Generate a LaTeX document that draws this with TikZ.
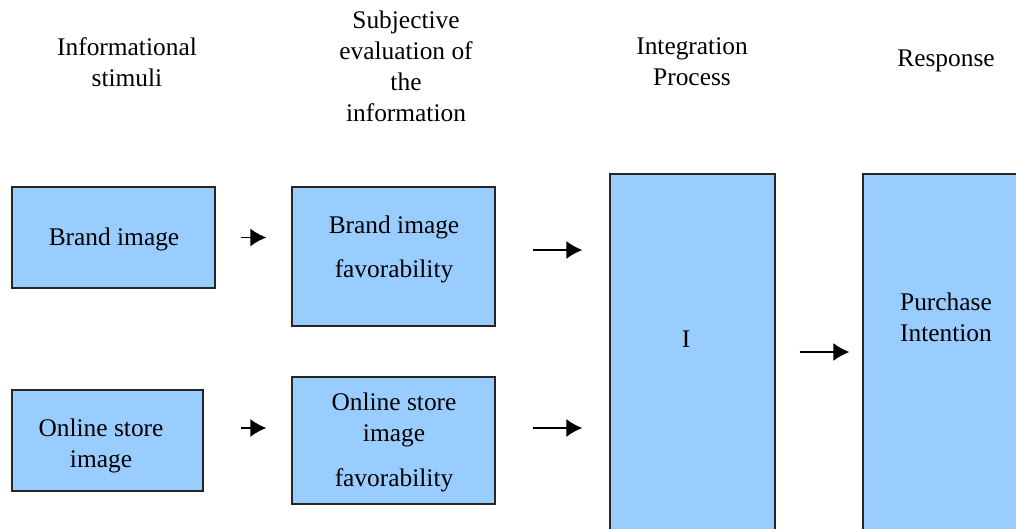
\documentclass[tikz,border=0pt]{standalone}
\usepackage{fontspec}
\setmainfont{Liberation Serif}
\usepackage{tikz}
\usetikzlibrary{arrows.meta}
\definecolor{boxblue}{rgb}{0.6,0.8,1.0}
\tikzset{
  box/.style={draw=black!85, line width=0.7pt, fill=boxblue, inner sep=0pt, rectangle},
  txt/.style={align=center, font=\fontsize{12.7}{15.5}\selectfont, inner sep=0pt},
  flow/.style={-{Latex[length=8pt,width=9pt]}, line width=0.75pt},
}
\begin{document}
\begin{tikzpicture}[x=0.5pt,y=-0.5pt]
  \useasboundingbox (0,0) rectangle (1016,529);
  \clip (0,0) rectangle (1016,529);
%%
  % Headings
  \node[txt] (hstim) at (127,62) {Informational\\stimuli};
  \node[txt] (heval) at (406,66.5) {Subjective\\evaluation of\\the\\information};
  \node[txt] (hinteg) at (692,62) {Integration\\Process};
  \node[txt] (hresp) at (946,61) {Response};
  % Node: brand
  \node[box, minimum width=101.5pt, minimum height=50.5pt] (brand) at (113.5,237.5) {};
  \node[txt] (brandtxt) at (114,239.5) {Brand image};
  % Node: brandfav
  \node[box, minimum width=101.5pt, minimum height=69.5pt] (brandfav) at (393.5,256.5) {};
  \node[txt] (brandfavtxt) at (394,249.5) {Brand image\\[6.5pt]favorability};
  % Node: store
  \node[box, minimum width=95.5pt, minimum height=50.5pt] (store) at (107.5,440.5) {};
  \node[txt] (storetxt) at (101,445.5) {Online store\\image};
  % Node: storefav
  \node[box, minimum width=101.5pt, minimum height=63.5pt] (storefav) at (393.5,440.5) {};
  \node[txt] (storefavtxt) at (394,442) {Online store\\image\\[7pt]favorability};
  % Node: integ
  \node[box, minimum width=82.5pt, minimum height=193pt] (integ) at (692.5,367) {};
  \node[txt] (integtxt) at (686,339) {I};
  % Node: intent
  \node[box, minimum width=93.5pt, minimum height=193pt] (intent) at (956.5,367) {};
  \node[txt] (intenttxt) at (946,317) {Purchase\\Intention};
  % Edge: brand -> brandfav
  \draw[flow, shorten <=12.5pt, shorten >=12.5pt] (brand.east) -- (brand.east -| brandfav.west);
  % Edge: store -> storefav
  \draw[flow, shorten <=18.5pt, shorten >=12.5pt] ([yshift=6.25pt]store.east) -- ([yshift=6.25pt]storefav.west);
  % Edge: brandfav -> integ
  \draw[flow, shorten <=18.5pt, shorten >=13.5pt] ([yshift=3.25pt]brandfav.east) -- ([yshift=3.25pt]brandfav.east -| integ.west);
  % Edge: storefav -> integ
  \draw[flow, shorten <=18.5pt, shorten >=13.5pt] ([yshift=6.25pt]storefav.east) -- ([yshift=6.25pt]storefav.east -| integ.west);
  % Edge: integ -> intent
  \draw[flow, shorten <=12pt, shorten >=6.5pt] ([yshift=7.5pt]integ.east) -- ([yshift=7.5pt]integ.east -| intent.west);
%
\end{tikzpicture}
\end{document}
